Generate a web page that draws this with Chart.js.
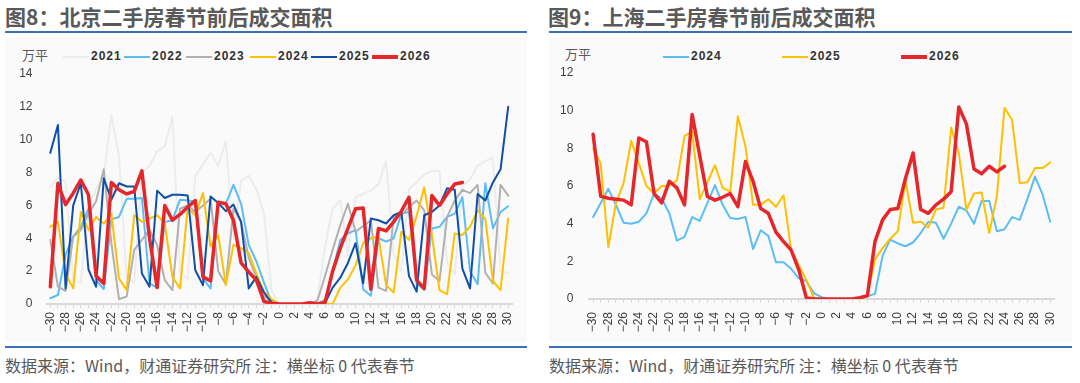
<!DOCTYPE html>
<html lang="zh-CN">
<head>
<meta charset="utf-8">
<script src="https://cdn.jsdelivr.net/npm/chart.js@4.4.1/dist/chart.umd.min.js"></script>
<style>
    body { margin: 0; width: 1080px; height: 383px; background: #fff; position: relative; overflow: hidden;
           font-family: "Noto Sans CJK SC", "Noto Sans", sans-serif; }
    .panel-bg { position: absolute; top: 38px; height: 304px; background: #fafafa; }
    .title { position: absolute; top: 4px; font-size: 21px; line-height: 24px; font-weight: bold; color: #595959; white-space: nowrap; }
    .rule { position: absolute; height: 2px; background: #3b72b5; }
    .source { position: absolute; top: 355px; font-size: 16px; line-height: 20px; color: #595959; white-space: nowrap; }
    .unit { position: absolute; font-size: 13px; line-height: 14px; color: #595959; }
    .lg { position: absolute; height: 14px; }
    .lg i { position: absolute; left: 0; width: 26px; }
    .lg span { position: absolute; left: 28px; top: -1px; font: bold 12px "Liberation Sans", sans-serif; letter-spacing: 1px; color: #333; line-height: 14px; }
    canvas { position: absolute; top: 0; }
</style>
</head>
<body>

<div class="panel-bg" style="left:5px;width:522px"></div>
<div class="panel-bg" style="left:549px;width:523px"></div>

<div class="title" style="left:5px">图8：北京二手房春节前后成交面积</div>
<div class="title" style="left:548px">图9：上海二手房春节前后成交面积</div>
<div class="rule" style="left:5px;width:522px;top:31px"></div>
<div class="rule" style="left:549px;width:523px;top:31px"></div>
<div class="rule" style="left:5px;width:522px;top:346px"></div>
<div class="rule" style="left:549px;width:523px;top:346px"></div>
<div class="source" style="left:5px">数据来源：Wind，财通证券研究所 注：横坐标 0 代表春节</div>
<div class="source" style="left:549px">数据来源：Wind，财通证券研究所 注：横坐标 0 代表春节</div>

<div class="unit" style="left:22px;top:48px">万平</div>
<div class="unit" style="left:565px;top:47px">万平</div>
<div id="legendBJ"></div>
<div id="legendSH"></div>

<canvas id="chartBJ" width="530" height="345" style="left:0"></canvas>
<canvas id="chartSH" width="540" height="345" style="left:540px"></canvas>

<script>
// 横坐标：春节前后天数
const dayLabels = [-30, -29, -28, -27, -26, -25, -24, -23, -22, -21, -20, -19, -18, -17, -16, -15, -14, -13, -12, -11,
    -10, -9, -8, -7, -6, -5, -4, -3, -2, -1, 0, 1, 2, 3, 4, 5, 6, 7, 8, 9, 10,
    11, 12, 13, 14, 15, 16, 17, 18, 19, 20, 21, 22, 23, 24, 25, 26, 27, 28, 29, 30];

// ===== 北京 (万平) =====
const bj2021 = [7.1, 7.7, 7.4, 1.4, 1.3, 6.0, 7.0, 7.8, 11.5, 9.0, 1.6, 1.3, 8.0, 8.4, 9.3, 9.6, 11.4, 2.0, 1.5, 7.8,
    8.5, 9.2, 8.4, 9.9, 4.0, 7.5, 7.8, 7.0, 5.5, 0.8, 0, 0, 0, 0, 0, 0.3, 3.5, 5.8, 6.3, 3.0, 6.5,
    6.7, 6.9, 7.3, 8.7, 3.0, 2.0, 7.0, 7.4, 7.9, 8.1, 8.1, 2.5, 1.8, 7.2, 7.6, 8.4, 8.7, 8.9, 2.0, 1.9];
const bj2022 = [0.35, 0.55, 3.0, 4.1, 4.7, 5.8, 1.45, 0.9, 5.15, 5.3, 6.4, 6.4, 6.45, 1.25, 1.0, 5.0, 5.1, 6.35, 6.3, 6.25,
    1.55, 0.95, 6.2, 6.1, 7.25, 6.1, 3.6, 2.6, 1.3, 0.1, 0, 0, 0, 0, 0, 0, 0.25, 2.0, 3.9, 4.3, 4.5,
    0.9, 0.5, 4.0, 3.8, 4.0, 5.5, 5.6, 1.25, 0.85, 4.6, 4.7, 5.3, 5.5, 6.5, 2.0, 1.2, 7.35, 4.6, 5.6, 5.95];
const bj2023 = [3.9, 1.05, 0.8, 4.1, 4.5, 5.5, 6.25, 8.2, 3.7, 0.3, 0.45, 3.3, 3.9, 4.5, 3.6, 1.45, 0.85, 5.8, 6.0, 5.6,
    6.0, 6.4, 2.0, 1.2, 5.8, 5.0, 2.8, 1.6, 0.5, 0.1, 0, 0, 0, 0, 0, 0.2, 1.7, 3.3, 4.8, 6.1, 4.4,
    4.75, 5.1, 1.0, 0.8, 5.3, 5.4, 5.9, 6.3, 5.7, 1.8, 1.4, 5.3, 6.3, 6.95, 6.75, 7.25, 1.9, 1.25, 7.25, 6.6];
const bj2024 = [4.7, 5.0, 1.85, 0.95, 5.6, 4.5, 5.3, 4.9, 5.5, 1.55, 0.85, 5.4, 5.0, 5.2, 5.4, 4.9, 1.65, 0.95, 5.85, 5.4,
    6.75, 3.5, 4.2, 1.15, 3.6, 3.4, 3.1, 1.85, 0.75, 0.3, 0, 0, 0, 0, 0, 0, 0, 0, 1.0, 1.5, 2.35,
    3.7, 4.0, 4.1, 1.15, 0.7, 4.4, 3.9, 5.35, 7.1, 4.2, 0.85, 0.6, 4.3, 4.2, 4.7, 5.7, 5.2, 1.4, 0.85, 5.2];
const bj2025 = [9.2, 10.9, 0.95, 6.0, 7.35, 2.1, 1.05, 7.65, 6.35, 7.35, 7.15, 7.15, 1.85, 1.05, 6.9, 6.45, 6.65, 6.65, 6.6, 2.05,
    1.15, 6.55, 6.15, 5.65, 6.05, 5.0, 0.95, 1.65, 0.7, 0.1, 0, 0, 0, 0, 0, 0, 0.05, 1.0, 1.6, 2.5, 3.7,
    1.25, 5.2, 5.1, 4.9, 5.4, 5.6, 1.7, 0.75, 5.4, 5.6, 6.0, 7.05, 6.95, 2.15, 0.95, 6.7, 6.3, 7.4, 8.2, 12.0];
const bj2026 = [1.05, 7.35, 6.05, 6.75, 7.55, 6.65, 1.7, 1.25, 7.4, 6.95, 6.7, 6.85, 8.1, 4.0, 1.0, 6.0, 5.1, 5.45, 5.9, 6.3,
    1.65, 1.4, 6.2, 6.1, 5.1, 2.5, 1.95, 1.45, 0.15, 0.05, 0, 0, 0, 0, 0.08, 0, 0.1, 2.0, 3.4, 4.6, 5.8,
    5.85, 0.9, 4.6, 4.45, 5.0, 5.65, 6.5, 1.45, 0.95, 6.6, 6.0, 6.7, 7.3, 7.4, null, null, null, null, null, null];

// ===== 上海 (万平) =====
const sh2024 = [4.35, 5.1, 5.85, 5.0, 4.05, 4.0, 4.1, 4.55, 5.6, 5.35, 4.55, 3.1, 3.3, 4.35, 4.15, 5.1, 6.05, 5.0, 4.3, 4.25,
    4.35, 2.65, 3.65, 3.35, 1.95, 1.95, 1.6, 1.1, 0.95, 0.3, 0.1, 0, 0, 0, 0, 0, 0.15, 0.27, 2.3, 3.15, 2.95,
    2.8, 3.0, 3.5, 4.1, 4.05, 3.2, 4.0, 4.9, 4.7, 4.0, 5.2, 5.2, 3.6, 3.7, 4.35, 4.2, 5.3, 6.5, 5.55, 4.1];
const sh2025 = [8.0, 7.2, 2.75, 5.1, 6.15, 8.4, 7.2, 6.0, 5.6, 6.0, 6.0, 6.3, 8.65, 8.9, 5.3, 6.2, 7.1, 5.9, 5.7, 9.7,
    8.1, 5.0, 5.0, 5.3, 4.9, 5.5, 2.6, 1.8, 1.0, 0.05, 0, 0, 0, 0, 0, 0, 0.15, 2.1, 2.7, 3.2, 3.6,
    6.3, 4.05, 4.1, 3.8, 4.75, 4.85, 9.1, 7.75, 4.75, 5.6, 5.65, 3.5, 5.45, 10.15, 9.5, 6.15, 6.2, 6.95, 6.95, 7.25];
const sh2026 = [8.75, 5.45, 5.35, 5.3, 5.25, 5.0, 8.55, 8.35, 5.6, 5.1, 6.25, 5.9, 5.0, 9.8, 7.6, 5.45, 5.25, 5.4, 5.6, 4.9,
    7.3, 6.25, 4.8, 4.55, 3.55, 3.05, 2.6, 1.55, 0.05, 0, 0, 0, 0, 0, 0, 0.07, 0.17, 3.05, 4.2, 4.75, 4.8,
    6.4, 7.75, 4.75, 4.55, 5.0, 5.3, 5.7, 10.2, 9.3, 6.9, 6.65, 7.05, 6.75, 7.05, null, null, null, null, null, null];

const bjYears = ['2021', '2022', '2023', '2024', '2025', '2026'];
const bjColors = ['#ececec', '#5cbdf5', '#b0b0b0', '#ffc000', '#0f4fa8', '#e5262a'];
const shYears = ['2024', '2025', '2026'];
const shColors = ['#5cbdf5', '#ffc000', '#e5262a'];

function fmtDay(v) {
    return v < 0 ? '\u2212' + (-v) : String(v);
}

function makeDataset(year, values, color, order) {
    return {
        label: year,
        data: values,
        borderColor: color,
        backgroundColor: color,
        borderWidth: year === '2026' ? 3.5 : 2,
        order: order,   // 后面的年份画在上层
        spanGaps: false
    };
}

function makeChart(canvasId, datasets, yMax, box) {
    const tickFont = { family: '"Liberation Sans", Arial, sans-serif', size: 12 };
    return new Chart(document.getElementById(canvasId), {
        type: 'line',
        data: { labels: dayLabels, datasets: datasets },
        options: {
            responsive: false,
            animation: false,
            layout: { padding: { top: box.top, right: box.right, left: 0, bottom: 0 } },
            plugins: { legend: { display: false }, tooltip: { enabled: false } },
            elements: {
                point: { radius: 0 },
                line: { tension: 0, borderJoinStyle: 'round', borderCapStyle: 'round' }
            },
            scales: {
                x: {
                    offset: true,
                    grid: { display: true, drawOnChartArea: false, drawTicks: true, tickLength: 4, color: '#d9d9d9' },
                    border: { display: true, color: '#d9d9d9', width: 2 },
                    ticks: {
                        autoSkip: false, minRotation: 90, maxRotation: 90,
                        padding: box.xPad, color: '#404040', font: tickFont,
                        callback: (v, i) => dayLabels[i] % 2 === 0 ? fmtDay(dayLabels[i]) : ''
                    },
                    afterFit: s => { s.height = box.xh; }
                },
                y: {
                    min: 0, max: yMax,
                    grid: { display: false, drawTicks: false },
                    border: { display: false },
                    ticks: { stepSize: 2, padding: box.yPad, color: '#404040', font: tickFont },
                    afterFit: s => { s.width = box.yw; }
                }
            }
        }
    });
}

function buildLegend(id, years, palette, lefts, top) {
    const host = document.getElementById(id);
    years.forEach((year, i) => {
        const el = document.createElement('div');
        el.className = 'lg';
        el.style.left = lefts[i] + 'px';
        el.style.top = top + 'px';
        const h = year === '2026' ? 3.5 : 2;
        el.innerHTML = `<i style="top:${7 - h / 2}px;height:${h}px;background:${palette[i]}"></i><span>${year}</span>`;
        host.appendChild(el);
    });
}

// 北京
const bjSeries = [bj2021, bj2022, bj2023, bj2024, bj2025, bj2026];
makeChart('chartBJ',
    bjSeries.map((d, i) => makeDataset(bjYears[i], d, bjColors[i], bjSeries.length - i)),
    14, { top: 74, right: 18, xh: 41, yw: 46.5, xPad: 4, yPad: 14 });

// 上海
const shSeries = [sh2024, sh2025, sh2026];
makeChart('chartSH',
    shSeries.map((d, i) => makeDataset(shYears[i], d, shColors[i], shSeries.length - i)),
    12, { top: 73, right: 26, xh: 46, yw: 49.3, xPad: 9, yPad: 16 });

buildLegend('legendBJ', bjYears, bjColors, [63, 124, 186, 250, 311, 372], 50);
buildLegend('legendSH', shYears, shColors, [663, 782, 901], 50);
</script>
</body>
</html>
